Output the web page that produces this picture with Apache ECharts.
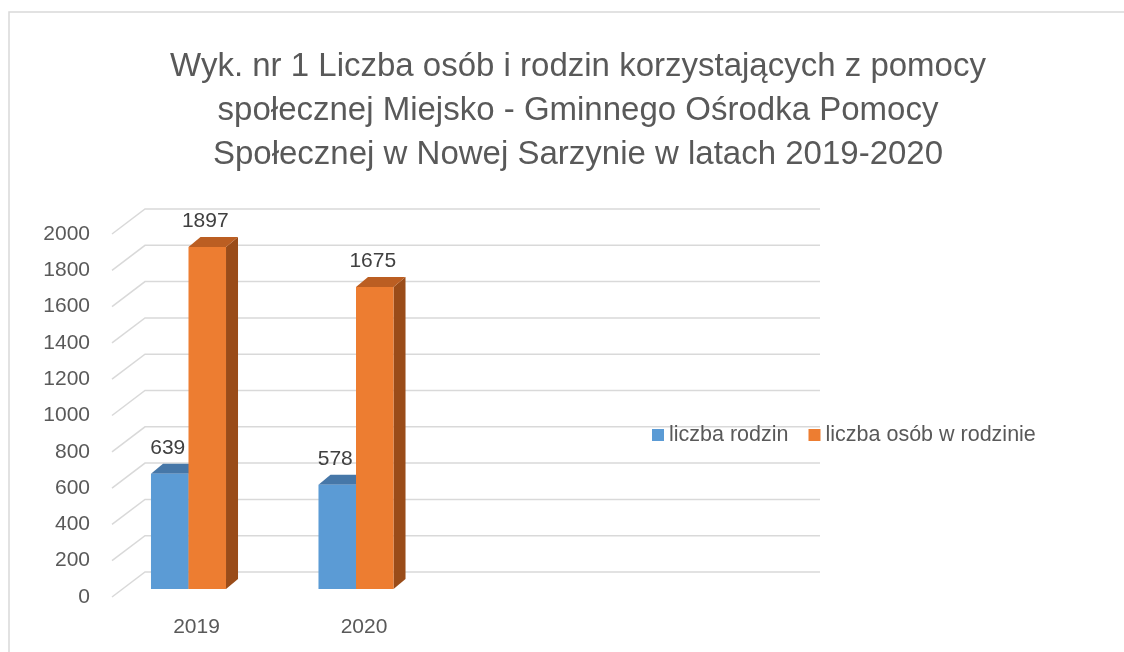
<!DOCTYPE html>
<html>
<head>
<meta charset="utf-8">
<script src="https://cdn.jsdelivr.net/npm/echarts@6/dist/echarts.min.js"></script>
<style>
  html, body { margin: 0; padding: 0; background: #fff; }
  #chart { width: 1124px; height: 652px; }
</style>
</head>
<body>
<div id="chart"></div>
<script>
var categories = ['2019', '2020'];
var liczbaRodzin = [639, 578];
var liczbaOsob = [1897, 1675];
var yTicks = [0, 200, 400, 600, 800, 1000, 1200, 1400, 1600, 1800, 2000];
var seriesNames = ['liczba rodzin', 'liczba osób w rodzinie'];

var FONT = '"Liberation Sans", Arial, sans-serif';
var WALL_DX = 33, WALL_DY = -25; // tylna ściana (perspektywa)
var BAR_DX = 12, BAR_DY = -10;   // głębokość słupka
var BAR_RATIO = 0.224;

var faces = [
  { front: '#5b9bd5', top: '#4677a8', side: '#3f6d99' },
  { front: '#ed7d31', top: '#bb5e22', side: '#9a4c19' }
];

function barRenderer(idx) {
  return function (params, api) {
    var top = api.coord([api.value(0), api.value(1)]);
    var base = api.coord([api.value(0), 0]);
    var w = api.size([1, 0])[0] * BAR_RATIO;
    var x0 = top[0] + (idx - 1) * w;
    var ty = top[1], by = base[1];
    var c = faces[idx];
    return {
      type: 'group',
      children: [
        {
          type: 'polygon',
          shape: { points: [[x0 + w, ty], [x0 + w + BAR_DX, ty + BAR_DY], [x0 + w + BAR_DX, by + BAR_DY], [x0 + w, by]] },
          style: { fill: c.side }
        },
        {
          type: 'polygon',
          shape: { points: [[x0, ty], [x0 + w, ty], [x0 + w + BAR_DX, ty + BAR_DY], [x0 + BAR_DX, ty + BAR_DY]] },
          style: { fill: c.top }
        },
        {
          type: 'rect',
          shape: { x: x0, y: ty, width: w, height: by - ty },
          style: { fill: c.front }
        },
        {
          type: 'text',
          x: x0 + w / 2 - 2,
          y: ty - 26,
          style: {
            text: String(api.value(1)),
            fill: '#404040',
            fontSize: 21,
            fontFamily: FONT,
            align: 'center',
            verticalAlign: 'middle'
          }
        }
      ]
    };
  };
}

var chart = echarts.init(document.getElementById('chart'));

var option = {
  backgroundColor: '#fff',
  animation: false,
  graphic: [
    {
      type: 'rect',
      shape: { x: 9, y: 12, width: 1300, height: 800 },
      style: { fill: 'none', stroke: '#d9d9d9', lineWidth: 1.5 },
      silent: true
    }
  ],
  title: {
    text: 'Wyk. nr 1 Liczba osób i rodzin korzystających z pomocy\nspołecznej Miejsko - Gminnego Ośrodka Pomocy\nSpołecznej w Nowej Sarzynie w latach 2019-2020',
    left: 573,
    top: 40,
    textAlign: 'center',
    textStyle: {
      fontSize: 33,
      fontWeight: 'normal',
      color: '#595959',
      lineHeight: 44,
      fontFamily: FONT
    }
  },
  legend: {
    data: seriesNames,
    left: 647,
    top: 419,
    icon: 'rect',
    itemWidth: 12,
    itemHeight: 12,
    itemGap: 20,
    textStyle: { color: '#595959', fontSize: 21.5, fontFamily: FONT }
  },
  grid: [
    { left: 112, top: 234, width: 675, height: 363 },
    { left: 104.75, top: 228.4, width: 670, height: 360.6 }
  ],
  xAxis: [
    { type: 'value', gridIndex: 0, min: 0, max: 1, show: false },
    {
      type: 'category',
      gridIndex: 1,
      data: categories.concat(['', '']),
      axisLine: { show: false },
      axisTick: { show: false },
      axisLabel: {
        color: '#595959',
        fontSize: 21,
        fontFamily: FONT,
        margin: 28,
        padding: [0, 0, 0, 16]
      }
    }
  ],
  yAxis: [
    {
      type: 'value',
      gridIndex: 0,
      min: 0,
      max: 2000,
      interval: 200,
      axisLine: { show: false },
      axisTick: { show: false },
      splitLine: { show: false },
      axisLabel: {
        color: '#595959',
        fontSize: 21,
        fontFamily: FONT,
        margin: 22,
        formatter: function (v) { return String(v); }
      }
    },
    { type: 'value', gridIndex: 1, min: 0, max: 2000, show: false }
  ],
  series: [
    {
      type: 'custom',
      xAxisIndex: 0,
      yAxisIndex: 0,
      silent: true,
      z: 1,
      data: yTicks.map(function (v) { return [0, v]; }),
      renderItem: function (params, api) {
        var p = api.coord([0, api.value(1)]);
        var e = api.coord([1, api.value(1)]);
        return {
          type: 'polyline',
          shape: { points: [p, [p[0] + WALL_DX, p[1] + WALL_DY], [e[0] + WALL_DX, e[1] + WALL_DY]] },
          style: { stroke: '#d9d9d9', lineWidth: 1.5, fill: null }
        };
      }
    },
    {
      name: seriesNames[0],
      type: 'custom',
      xAxisIndex: 1,
      yAxisIndex: 1,
      z: 2,
      itemStyle: { color: faces[0].front },
      data: categories.map(function (c, i) { return [i, liczbaRodzin[i]]; }),
      renderItem: barRenderer(0)
    },
    {
      name: seriesNames[1],
      type: 'custom',
      xAxisIndex: 1,
      yAxisIndex: 1,
      z: 3,
      itemStyle: { color: faces[1].front },
      data: categories.map(function (c, i) { return [i, liczbaOsob[i]]; }),
      renderItem: barRenderer(1)
    }
  ]
};

chart.setOption(option);
</script>
</body>
</html>
